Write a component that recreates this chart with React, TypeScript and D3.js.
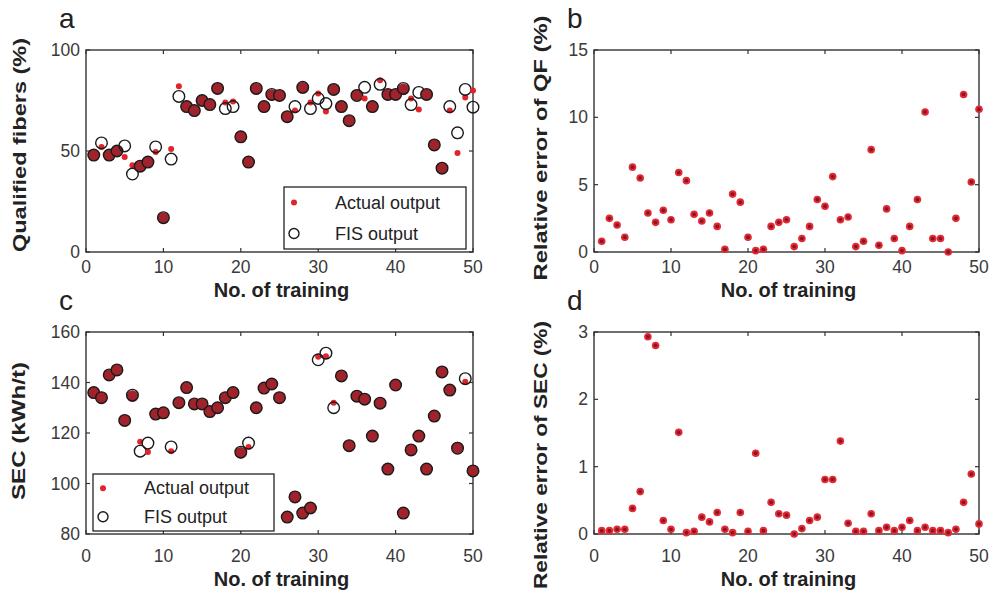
import React from "react";
import * as d3 from "d3";

const trainingNo = d3.range(1, 51);
const xTicks = [0, 10, 20, 30, 40, 50];

const qfActual = [48, 52, 48, 50, 47, 43, 42.5, 44.5, 49.5, 16.5, 51, 82, 72, 70, 75, 73, 81, 74, 74.5, 57, 44.5, 80.5, 72, 77.5, 77.5, 67, 70, 81, 74, 78.5, 69.5, 80.5, 72, 65, 78, 76, 72, 85, 78, 78, 80, 76, 70.5, 78, 53, 41.5, 70, 49, 76.5, 80];
const qfFIS = [48, 54, 48, 50, 52.5, 38.6, 42.5, 44.5, 52, 17, 46, 77, 72, 70, 75, 73, 81, 71, 72, 57, 44.5, 81, 72, 78, 77.5, 67, 72, 81.5, 71, 76, 73.5, 80.5, 72, 65, 77.5, 81.5, 72, 83, 78, 78, 81, 73, 79, 78, 53, 41.5, 72, 59, 80.5, 71.7];
const qfError = [0.8, 2.5, 2.0, 1.1, 6.3, 5.5, 2.9, 2.2, 3.1, 2.4, 5.9, 5.3, 2.8, 2.3, 2.9, 1.9, 0.2, 4.3, 3.7, 1.1, 0.1, 0.2, 1.9, 2.2, 2.4, 0.4, 1.0, 1.9, 3.9, 3.4, 5.6, 2.4, 2.6, 0.4, 0.8, 7.6, 0.5, 3.2, 1.0, 0.1, 1.9, 3.9, 10.4, 1.0, 1.0, 0.0, 2.5, 11.7, 5.2, 10.6];

const secActual = [136, 134, 143, 145, 125, 134.2, 116.5, 112.5, 127.5, 128, 112.8, 132, 138, 131.5, 131.5, 128.5, 130, 134, 136, 112, 114.5, 130, 137.8, 139.4, 134, 86.7, 94.7, 88.3, 90.3, 150.2, 150.4, 132, 142.6, 115, 134.6, 133.4, 118.8, 131.8, 105.7, 139, 88.3, 113.3, 118.8, 105.7, 126.7, 144.2, 137, 114.5, 140.3, 105];
const secFIS = [136, 134, 143, 145, 125, 135, 112.8, 116, 127.5, 128, 114.5, 132, 138, 131.5, 131.5, 128.5, 130, 134, 136, 112.4, 116, 130, 137.8, 139.4, 134, 86.7, 94.7, 88.3, 90.3, 149, 151.6, 130, 142.6, 115, 134.6, 133.4, 118.8, 131.8, 105.7, 139, 88.3, 113.3, 118.8, 105.7, 126.7, 144.2, 137, 114, 141.5, 105];
const secError = [0.05, 0.05, 0.07, 0.07, 0.38, 0.63, 2.93, 2.8, 0.2, 0.07, 1.51, 0.02, 0.04, 0.25, 0.18, 0.32, 0.07, 0.02, 0.32, 0.04, 1.2, 0.05, 0.47, 0.3, 0.28, 0.0, 0.08, 0.2, 0.25, 0.81, 0.81, 1.38, 0.16, 0.04, 0.04, 0.3, 0.05, 0.1, 0.05, 0.1, 0.2, 0.05, 0.1, 0.05, 0.05, 0.02, 0.07, 0.47, 0.89, 0.15];

const qfTicks = [0, 50, 100];
const qfErrTicks = [0, 5, 10, 15];
const secTicks = [80, 100, 120, 140, 160];
const secErrTicks = [0, 1, 2, 3];

const FONT = "'Liberation Sans', Arial, sans-serif";
const AXIS = "#333";

type Box = { x0: number; x1: number; y0: number; y1: number };

function Frame({ box, yTicks, letter, yTitle, xs, ys, lay }: any) {
  const { x0, x1, y0, y1 } = box;
  const tl = 4;
  return (
    <g>
      <rect x={x0} y={y0} width={x1 - x0} height={y1 - y0} fill="white" stroke={AXIS} strokeWidth={1.4} />
      {xTicks.map((t) => (
        <g key={"xt" + t}>
          <line x1={xs(t)} x2={xs(t)} y1={y1} y2={y1 - tl} stroke={AXIS} strokeWidth={1.2} />
          <line x1={xs(t)} x2={xs(t)} y1={y0} y2={y0 + tl} stroke={AXIS} strokeWidth={1.2} />
          <text x={xs(t)} y={y1 + lay.tickDy} textAnchor="middle" fontFamily={FONT} fontSize={17.5} fill="#3a3a3a">{t}</text>
        </g>
      ))}
      {yTicks.map((t: number) => (
        <g key={"yt" + t}>
          <line x1={x0} x2={x0 + tl} y1={ys(t)} y2={ys(t)} stroke={AXIS} strokeWidth={1.2} />
          <line x1={x1} x2={x1 - tl} y1={ys(t)} y2={ys(t)} stroke={AXIS} strokeWidth={1.2} />
          <text x={x0 - 6} y={ys(t) + 6} textAnchor="end" fontFamily={FONT} fontSize={17.5} fill="#3a3a3a">{t}</text>
        </g>
      ))}
      <text x={(x0 + x1) / 2 + 2} y={y1 + lay.titleDy} textAnchor="middle" fontFamily={FONT} fontSize={20} fontWeight="bold" fill="#222">No. of training</text>
      <text transform={`translate(${x0 - lay.yTitleDx},${lay.yTitleCy}) rotate(-90)`} textAnchor="middle" fontFamily={FONT} fontSize={19} fontWeight="bold" fill="#222" textLength={lay.yTitleLen} lengthAdjust="spacingAndGlyphs">{yTitle}</text>
      <text x={x0 - 27} y={y0 - 22} fontFamily={FONT} fontSize={28} fill="#222">{letter}</text>
    </g>
  );
}

function Compare({ box, yDomain, yTicks, letter, yTitle, actual, fis, legend, lay }: any) {
  const xs = d3.scaleLinear().domain([0, 50]).range([box.x0, box.x1]);
  const ys = d3.scaleLinear().domain(yDomain).range([box.y1, box.y0]);
  return (
    <g>
      <Frame box={box} yTicks={yTicks} letter={letter} yTitle={yTitle} xs={xs} ys={ys} lay={lay} />
      {trainingNo.map((n, i) => {
        const cx = xs(n);
        const ya = ys(actual[i]);
        const yf = ys(fis[i]);
        const close = Math.abs(ya - yf) < 3;
        return (
          <g key={n}>
            {close && <circle cx={cx} cy={(ya + yf) / 2} r={5.8} fill="#a0232c" />}
            {!close && <circle cx={cx} cy={ya} r={3} fill="#e0242c" />}
            <circle cx={cx} cy={yf} r={5.8} fill="none" stroke="#1a1a1a" strokeWidth={1.4} />
          </g>
        );
      })}
      <g>
        <rect x={legend.x} y={legend.y} width={legend.w} height={legend.h} fill="white" stroke="#111" strokeWidth={1.2} />
        <circle cx={legend.x + 10} cy={legend.y + legend.h * 0.25} r={3} fill="#e0242c" />
        <circle cx={legend.x + 10} cy={legend.y + legend.h * 0.75} r={5} fill="none" stroke="#1a1a1a" strokeWidth={1.4} />
        <text x={legend.x + 51} y={legend.y + legend.h * 0.25 + 6} fontFamily={FONT} fontSize={18} fill="#222">Actual output</text>
        <text x={legend.x + 51} y={legend.y + legend.h * 0.75 + 6} fontFamily={FONT} fontSize={18} fill="#222">FIS output</text>
      </g>
    </g>
  );
}

function ErrorPlot({ box, yDomain, yTicks, letter, yTitle, values, lay }: any) {
  const xs = d3.scaleLinear().domain([0, 50]).range([box.x0, box.x1]);
  const ys = d3.scaleLinear().domain(yDomain).range([box.y1, box.y0]);
  return (
    <g>
      <Frame box={box} yTicks={yTicks} letter={letter} yTitle={yTitle} xs={xs} ys={ys} lay={lay} />
      {trainingNo.map((n, i) => (
        <g key={n}>
          <circle cx={xs(n)} cy={ys(values[i])} r={3.8} fill="#e32a35" />
          <circle cx={xs(n)} cy={ys(values[i])} r={1.9} fill="#8a1424" />
        </g>
      ))}
    </g>
  );
}

export default function App() {
  const boxA: Box = { x0: 86, x1: 473, y0: 50, y1: 252 };
  const boxB: Box = { x0: 594, x1: 979, y0: 50, y1: 252 };
  const boxC: Box = { x0: 86, x1: 473, y0: 332, y1: 534 };
  const boxD: Box = { x0: 594, x1: 979, y0: 332, y1: 534 };
  const layA = { tickDy: 21, titleDy: 45, yTitleDx: 60, yTitleCy: 145, yTitleLen: 214 };
  const layB = { tickDy: 21, titleDy: 45, yTitleDx: 47, yTitleCy: 148, yTitleLen: 265 };
  const layC = { tickDy: 28, titleDy: 52, yTitleDx: 61, yTitleCy: 431, yTitleLen: 138 };
  const layD = { tickDy: 28, titleDy: 52, yTitleDx: 47, yTitleCy: 455, yTitleLen: 268 };
  return (
    <svg width={993} height={594} style={{ position: "absolute", left: 0, top: 0, background: "white" }}>
      <rect width={993} height={594} fill="white" />
      <Compare box={boxA} yDomain={[0, 100]} yTicks={qfTicks} letter="a" yTitle="Qualified fibers (%)" actual={qfActual} fis={qfFIS} legend={{ x: 284, y: 187, w: 182, h: 62 }} lay={layA} />
      <ErrorPlot box={boxB} yDomain={[0, 15]} yTicks={qfErrTicks} letter="b" yTitle="Relative error of QF (%)" values={qfError} lay={layB} />
      <Compare box={boxC} yDomain={[80, 160]} yTicks={secTicks} letter="c" yTitle="SEC (kWh/t)" actual={secActual} fis={secFIS} legend={{ x: 93, y: 474, w: 181, h: 57 }} lay={layC} />
      <ErrorPlot box={boxD} yDomain={[0, 3]} yTicks={secErrTicks} letter="d" yTitle="Relative error of SEC (%)" values={secError} lay={layD} />
    </svg>
  );
}
